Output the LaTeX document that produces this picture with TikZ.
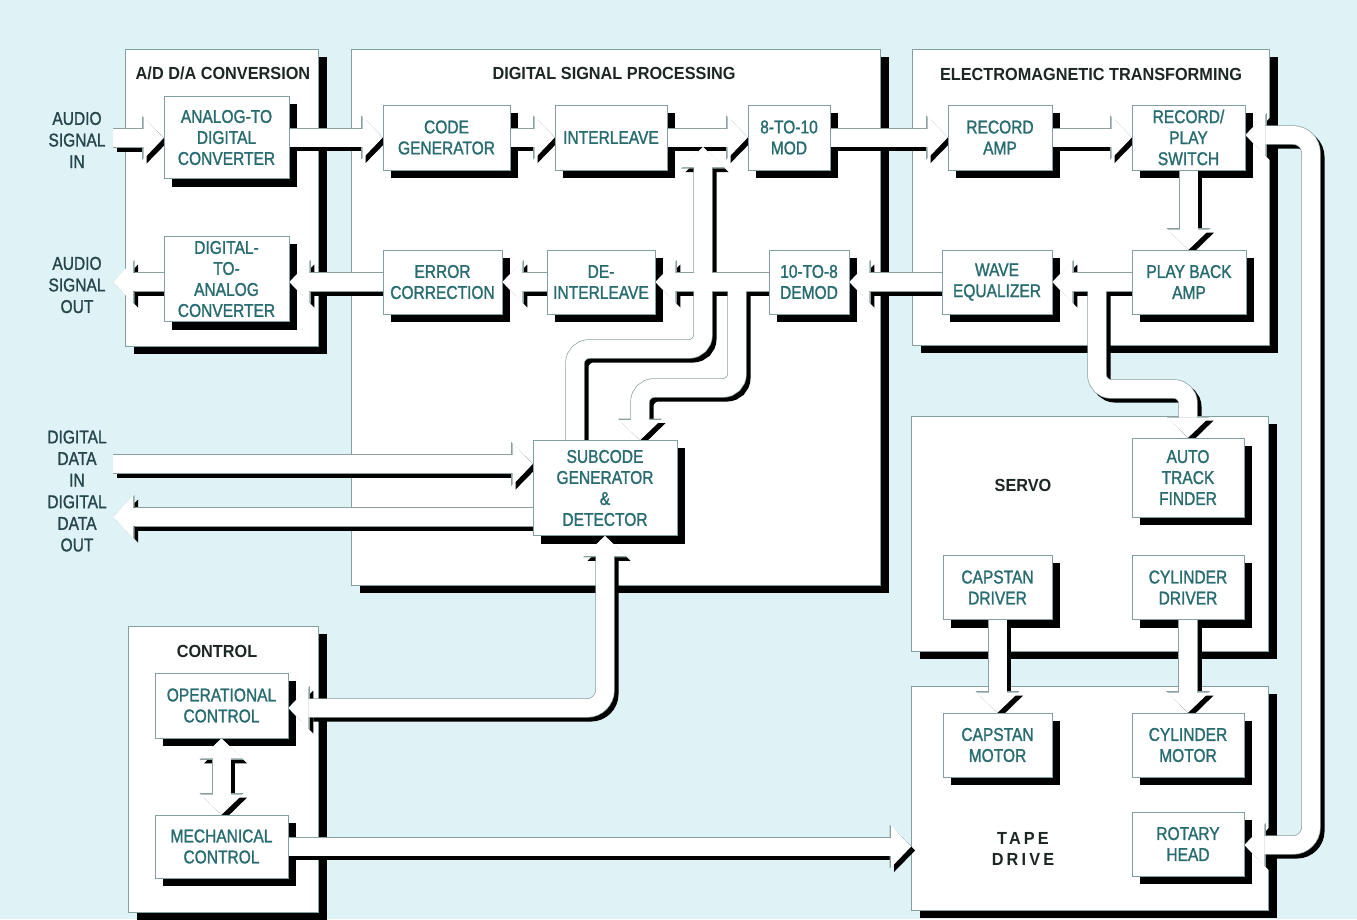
\documentclass[tikz,border=0pt]{standalone}
\usepackage{fontspec}
\setmainfont{Liberation Sans}[FakeStretch=0.84,FakeBold=1.3]
\newfontfamily\titlefont{Liberation Sans}[FakeStretch=0.93]
\usetikzlibrary{arrows.meta,shadows}
\definecolor{paper}{RGB}{223,243,246}
\definecolor{boxline}{RGB}{130,160,160}
\definecolor{boxtext}{RGB}{40,108,112}
\definecolor{labeltext}{RGB}{38,70,76}
\definecolor{titletext}{RGB}{28,38,34}
\definecolor{busline}{RGB}{140,160,160}
\pgfdeclarelayer{back}
\pgfdeclarelayer{shade}
\pgfdeclarelayer{busshade}
\pgfdeclarelayer{busedge}
\pgfdeclarelayer{busfill}
\pgfsetlayers{back,shade,busshade,busedge,busfill,main}
\tikzset{group/.style={draw=boxline,fill=white,line width=.8pt,anchor=north west,inner sep=0pt,
 drop shadow={shadow xshift=9pt,shadow yshift=-8pt,opacity=1,fill=black}},
 grouptitle/.style={text=titletext,align=center,font=\titlefont\bfseries\fontsize{17.5}{21.5}\selectfont},
 block/.style={draw=boxline,fill=white,line width=.8pt,text=boxtext,align=center,inner sep=0pt,
 minimum height=64pt,font=\fontsize{18.5}{21}\selectfont},
 sidelabel/.style={text=labeltext,align=center,font=\fontsize{18.5}{21.6}\selectfont},
 busshade/.style={draw=black,line width=19pt,>={Triangle[width=43pt,length=21pt,line width=0pt]},
 transform canvas={shift={(4pt,-4pt)}}},
 busedge/.style={draw=busline,line width=19.4pt,>={Triangle[width=44pt,length=21.5pt,line width=0pt]}},
 busfill/.style={draw=white,line width=18pt,>={Triangle[width=42pt,length=20pt,line width=0pt]}}}
\newcommand\bus[2]{%
 \begin{pgfonlayer}{busshade}\draw[busshade,#1] #2;\end{pgfonlayer}%
 \begin{pgfonlayer}{busedge}\draw[busedge,#1] #2;\end{pgfonlayer}%
 \begin{pgfonlayer}{busfill}\draw[busfill,#1] #2;\end{pgfonlayer}}

\begin{document}
\begin{tikzpicture}[x=1pt,y=-1pt]
\useasboundingbox (0,0) rectangle (1357,919);
\begin{pgfonlayer}{back}
\fill[paper] (0,0) rectangle (1357,919);
\node[group,minimum width=193pt,minimum height=297pt] (adda) at (125,49) {};
\node[group,minimum width=529pt,minimum height=536pt] (dsp) at (351,49) {};
\node[group,minimum width=357pt,minimum height=296pt] (emt) at (912,49) {};
\node[group,minimum width=357pt,minimum height=235pt] (servo) at (911,416) {};
\node[group,minimum width=357pt,minimum height=224pt] (tape) at (911,686) {};
\node[group,minimum width=190pt,minimum height=286pt] (ctrl) at (128,626) {};
\node[grouptitle] (addatitle) at (223,73) {A/D D/A CONVERSION};
\node[grouptitle] (dsptitle) at (614,73) {DIGITAL SIGNAL PROCESSING};
\node[grouptitle] (emttitle) at (1091,74) {ELECTROMAGNETIC TRANSFORMING};
\node[grouptitle] (servotitle) at (1023,485) {SERVO};
\node[grouptitle] (tapetitle) at (1023,849) {\addfontfeature{LetterSpace=18}TAPE\\\addfontfeature{LetterSpace=18}DRIVE};
\node[grouptitle] (ctrltitle) at (217,651) {CONTROL};
\end{pgfonlayer}

% blocks
\node[block,minimum width=125pt,minimum height=82pt] (adc) at (226.5,137.5) {ANALOG-TO\\DIGITAL\\CONVERTER};
\node[block,minimum width=125pt,minimum height=85pt] (dac) at (226.5,279) {DIGITAL-\\TO-\\ANALOG\\CONVERTER};
\node[block,minimum width=127pt,minimum height=65pt] (codegen) at (446.5,137.5) {CODE\\GENERATOR};
\node[block,minimum width=112pt,minimum height=65pt] (ilv) at (611,137.5) {INTERLEAVE};
\node[block,minimum width=82pt,minimum height=65pt] (mod) at (789,137.5) {8-TO-10\\MOD};
\node[block,minimum width=119pt] (errc) at (442.5,282) {ERROR\\CORRECTION};
\node[block,minimum width=108pt] (deil) at (601,282) {DE-\\INTERLEAVE};
\node[block,minimum width=80pt] (demod) at (809,282) {10-TO-8\\DEMOD};
\node[block,minimum width=144pt,minimum height=95pt] (subcode) at (605,488) {SUBCODE\\GENERATOR\\\&\\DETECTOR};
\node[block,minimum width=104pt,minimum height=65pt] (recamp) at (1000,137.5) {RECORD\\AMP};
\node[block,minimum width=113pt,minimum height=65pt] (rpsw) at (1188.5,137.5) {RECORD/\\PLAY\\SWITCH};
\node[block,minimum width=110pt] (waveeq) at (997,282) {WAVE\\EQUALIZER};
\node[block,minimum width=114pt] (pbamp) at (1189,282) {PLAY BACK\\AMP};
\node[block,minimum width=112pt,minimum height=79pt] (atf) at (1188,477.5) {AUTO\\TRACK\\FINDER};
\node[block,minimum width=109pt] (capdrv) at (997.5,587.5) {CAPSTAN\\DRIVER};
\node[block,minimum width=112pt] (cyldrv) at (1188,587.5) {CYLINDER\\DRIVER};
\node[block,minimum width=109pt] (capmot) at (997.5,745) {CAPSTAN\\MOTOR};
\node[block,minimum width=112pt] (cylmot) at (1188,745) {CYLINDER\\MOTOR};
\node[block,minimum width=112pt] (rothead) at (1188,844) {ROTARY\\HEAD};
\node[block,minimum width=133pt,minimum height=65pt] (opctl) at (221.5,705.5) {OPERATIONAL\\CONTROL};
\node[block,minimum width=133pt,minimum height=63pt] (mechctl) at (221.5,846.5) {MECHANICAL\\CONTROL};
\begin{pgfonlayer}{shade}
\foreach \b in {adc,dac,codegen,ilv,mod,errc,deil,demod,subcode,recamp,rpsw,waveeq,pbamp,
 atf,capdrv,cyldrv,capmot,cylmot,rothead,opctl,mechctl}
 \fill[black] ([shift={(8pt,-8pt)}]\b.south west) rectangle ([shift={(8pt,-8pt)}]\b.north east);
\end{pgfonlayer}

\node[sidelabel] (audioin) at (77,140) {AUDIO\\SIGNAL\\IN};
\node[sidelabel] (audioout) at (77,285) {AUDIO\\SIGNAL\\OUT};
\node[sidelabel] (datalabel) at (77,491) {DIGITAL\\DATA\\IN\\DIGITAL\\DATA\\OUT};

\coordinate (ain) at (113,138);
\coordinate (aout) at (113,282);
\coordinate (din) at (113,464);
\coordinate (dout) at (113,517);
\coordinate (pbtap) at (1097,282);
\coordinate (pbbend) at (1097,389);
\coordinate (dtap) at (737,282);
\coordinate (dbend) at (737,388);
\coordinate (dbend2) at (640,388);
\coordinate (abend) at (575,349);
\coordinate (abend2) at (703,349);
\coordinate (atop) at (703,147);
\coordinate (opbend) at (605,708);
\coordinate (rtop) at (1311,135);
\coordinate (rbot) at (1311,845);

% record path
\bus{->}{(ain) -- (ain -| adc.west)}
\bus{->}{(adc.east) -- (codegen.west)}
\bus{->}{(codegen.east) -- (ilv.west)}
\bus{->}{(ilv.east) -- (mod.west)}
\bus{->}{(mod.east) -- (recamp.west)}
\bus{->}{(recamp.east) -- (rpsw.west)}
\bus{->}{(rpsw.south) -- (rpsw.south |- pbamp.north)}
% playback path
\bus{->}{(pbamp.west) -- (waveeq.east)}
\bus{->,rounded corners=14pt}{(pbtap) -- (pbbend) -- (pbbend -| atf.north) -- (atf.north)}
\bus{->}{(waveeq.west) -- (demod.east)}
\bus{->}{(demod.west) -- (deil.east)}
\bus{->}{(deil.west) -- (errc.east)}
\bus{->}{(errc.west) -- (errc.west -| dac.east)}
\bus{->}{(dac.west |- aout) -- (aout)}
% subcode
\bus{->,rounded corners=14pt}{(abend |- subcode.north) -- (abend) -- (abend2) -- (atop)}
\bus{->,rounded corners=14pt}{(dtap) -- (dbend) -- (dbend2) -- (dbend2 |- subcode.north)}
\bus{->}{(din) -- (din -| subcode.west)}
\bus{->}{(subcode.west |- dout) -- (dout)}
\bus{<->,rounded corners=18pt}{(subcode.south -| opbend) -- (opbend) -- (opbend -| opctl.east)}
% control and drive
\bus{<->}{(opctl.south) -- (mechctl.north)}
\bus{->}{(mechctl.east) -- (mechctl.east -| tape.west)}
\bus{->}{(capdrv.south) -- (capmot.north)}
\bus{->}{(cyldrv.south) -- (cylmot.north)}
\bus{<->,rounded corners=18pt}{(rtop -| rpsw.east) -- (rtop) -- (rbot) -- (rbot -| rothead.east)}
\end{tikzpicture}
\end{document}
